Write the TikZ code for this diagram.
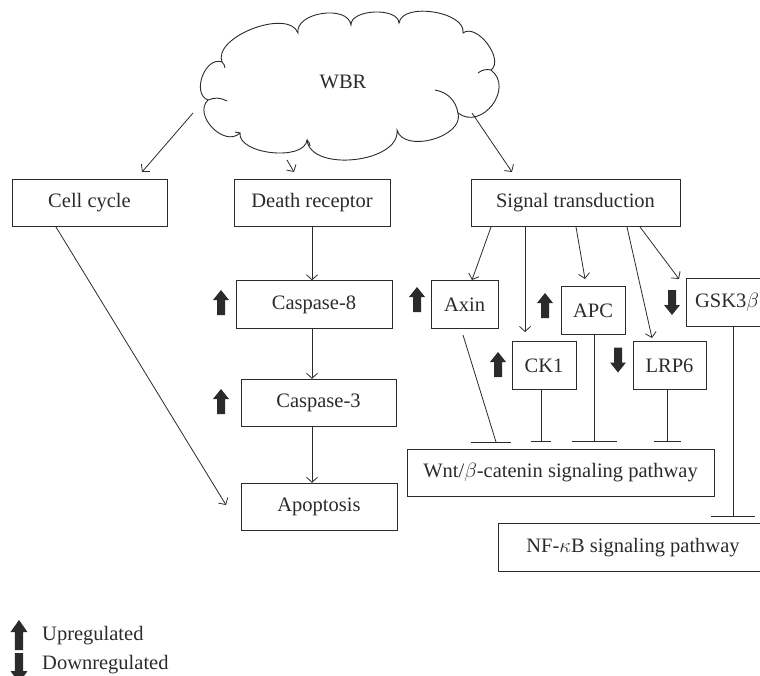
\documentclass[tikz,border=0pt]{standalone}
\usepackage{fontspec}
\setmainfont{Liberation Serif}
\usetikzlibrary{arrows.meta}
\definecolor{ink}{HTML}{2B2B2B}
\begin{document}
\begin{tikzpicture}[x=1pt,y=-1pt,
  line/.style={draw=ink, line width=0.8pt},
  arr/.style={line, -{Straight Barb[length=5pt,width=11pt]}},
  inh/.style={line, -{Bar[width=#1]}},
  txt/.style={font=\fontsize{20.5}{24}\selectfont, text=ink},
  box/.style={draw=ink, line width=0.9pt, minimum height=47.5pt, inner sep=0pt, txt},
  lobe/.style={bend left=90, looseness=#1},
  uparr/.pic={\fill[ink] (0,-12.5) -- (8,-2.5) -- (4,-2.5) -- (4,12.5) -- (-4,12.5) -- (-4,-2.5) -- (-8,-2.5) -- cycle;},
  downarr/.pic={\fill[ink] (0,12.5) -- (8,2.5) -- (4,2.5) -- (4,-12.5) -- (-4,-12.5) -- (-4,2.5) -- (-8,2.5) -- cycle;},
]
\useasboundingbox (0,0) rectangle (760,675);

% cloud outline
\coordinate (cA) at (208,100);
\coordinate (cB) at (222,62);
\coordinate (cC) at (298,33);
\coordinate (cD) at (351,25);
\coordinate (cE) at (399,23);
\coordinate (cF) at (463,33);
\coordinate (cG) at (491,70);
\coordinate (cH) at (458,113);
\coordinate (cI) at (397,130);
\coordinate (cJ) at (307,140);
\coordinate (cK) at (240,133);
\draw[draw=ink, line width=0.9pt, fill=white]
  (cA) to[lobe=1.14] (cB) to[lobe=0.85] (cC) to[lobe=1.0] (cD) to[lobe=0.85] (cE)
  to[lobe=0.85] (cF) to[lobe=0.95] (cG) to[lobe=1.4] (cH) to[lobe=1.0] (cI)
  to[lobe=0.93] (cJ) to[lobe=0.82] (cK) to[lobe=1.2] (cA);
% inner curls
\draw[draw=ink, line width=0.9pt] (cA) to[bend left=25] (227,101);
\draw[draw=ink, line width=0.9pt] (cB) to[bend left=20] (225,68);
\draw[draw=ink, line width=0.9pt] (cG) to[bend right=25] (478,73);
\draw[draw=ink, line width=0.9pt] (cH) to[bend right=35] (435,90);
\draw[draw=ink, line width=0.9pt] (cJ) to[bend left=20] (310,146);
\draw[draw=ink, line width=0.9pt] (cK) to[bend right=20] (235,132);
\node[txt] (wbr) at (343,82) {WBR};

% top row
\node[box, minimum width=155pt] (cell) at (89.5,203) {Cell cycle};
\node[box, minimum width=156pt] (death) at (312,203) {Death receptor};
\node[box, minimum width=209pt] (sig) at (575.5,203) {Signal transduction};

% apoptosis branch
\node[box, minimum width=156pt] (casp8) at (314,304.5) {Caspase-8};
\node[box, minimum width=155pt] (casp3) at (318.5,403) {Caspase-3};
\node[box, minimum width=156pt] (apop) at (319,507) {Apoptosis};

% signal branch
\node[box, minimum width=67pt] (axin) at (464.5,304.5) {Axin};
\node[box, minimum width=64pt] (apc) at (593,310.5) {APC};
\node[box, minimum width=64pt] (ck1) at (544,365.5) {CK1};
\node[box, minimum width=73pt] (lrp6) at (669.5,365.5) {LRP6};
\node[box, minimum width=82pt] (gsk) at (727,302.5) {GSK3$\beta$};
\node[box, minimum width=307pt] (wnt) at (560.5,473) {Wnt/$\beta$-catenin signaling pathway};
\node[box, minimum width=270pt] (nfkb) at (633,547.5) {NF-$\kappa$B signaling pathway};

% markers
\pic at (221,302.5) {uparr};
\pic at (221,401.5) {uparr};
\pic at (417,299.5) {uparr};
\pic at (545,305.5) {uparr};
\pic at (498,364.5) {uparr};
\pic at (618,360) {downarr};
\pic at (672,302.5) {downarr};

% cloud arrows
\coordinate (w1) at (193,113); \coordinate (e1) at (142,172);
\coordinate (w2) at (287,160); \coordinate (e2) at (294,172);
\coordinate (w3) at (472,113); \coordinate (e3) at (512,172);
\draw[arr] (w1) -- (e1);
\draw[arr] (w2) -- (e2);
\draw[arr] (w3) -- (e3);

% apoptosis chain
\draw[arr] (death.south) -- (death.south |- casp8.north);
\draw[arr] (casp8.south -| death.south) -- (casp3.north -| death.south);
\draw[arr] (casp3.south -| death.south) -- (apop.north -| death.south);
\coordinate (cc) at (56,227); \coordinate (ca) at (226,505);
\draw[arr] (cc) -- (ca);

% signal transduction arrows
\coordinate (s1) at (491,227); \coordinate (t1) at (472,280);
\coordinate (s2) at (525,227); \coordinate (t2) at (525,332);
\coordinate (s3) at (576,227); \coordinate (t3) at (585,279);
\coordinate (s4) at (627,227); \coordinate (t4) at (652,338);
\coordinate (s5) at (640,227); \coordinate (t5) at (679,279);
\draw[arr] (s1) -- (t1);
\draw[arr] (s2) -- (t2);
\draw[arr] (s3) -- (t3);
\draw[arr] (s4) -- (t4);
\draw[arr] (s5) -- (t5);

% inhibitions
\coordinate (ax0) at (463,335); \coordinate (ax1) at (496,442);
\coordinate (axl) at (471,442); \coordinate (axr) at (511,442);
\draw[line] (ax0) -- (ax1);
\draw[line] (axl) -- (axr);
\coordinate (ckb) at (541,442);
\draw[inh=20pt] (ck1.south -| ckb) -- (ckb);
\coordinate (apb) at (594,442);
\draw[inh=45pt] (apc.south -| apb) -- (apb);
\coordinate (lrb) at (667,442);
\draw[inh=27pt] (lrp6.south -| lrb) -- (lrb);
\coordinate (gkb) at (733,517);
\draw[inh=44pt] (gsk.south -| gkb) -- (gkb);

% legend
\pic[xscale=1.06,yscale=1.2] at (19,635) {uparr};
\pic[xscale=1.06,yscale=1.2] at (19,668) {downarr};
\node[txt, anchor=west, inner sep=0pt] (lup) at (42,636) {Upregulated};
\node[txt, anchor=west, inner sep=0pt] (ldown) at (42,665) {Downregulated};
\end{tikzpicture}
\end{document}
